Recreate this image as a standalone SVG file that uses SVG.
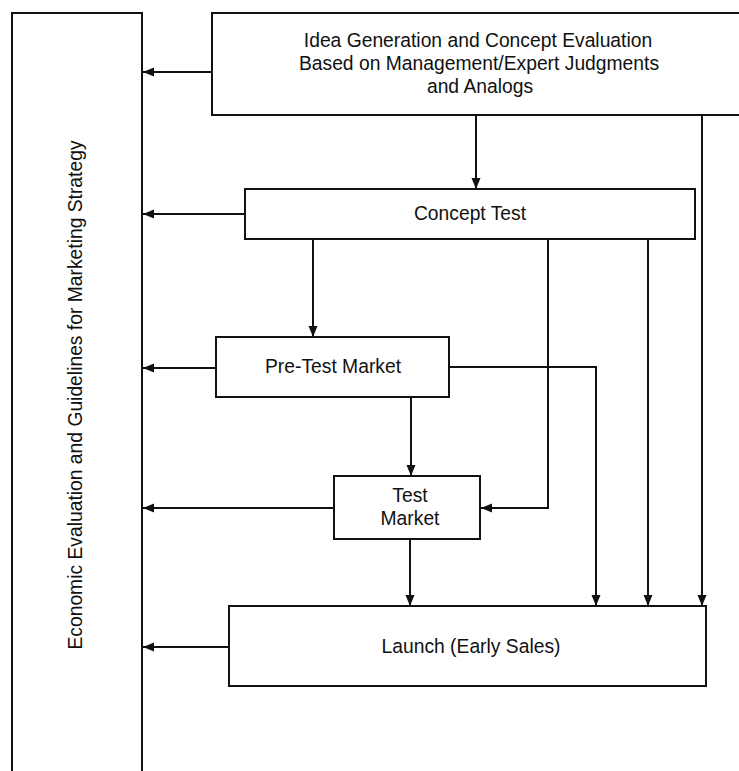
<svg xmlns="http://www.w3.org/2000/svg" width="739" height="771" viewBox="0 0 739 771">
<style>
.box{fill:#fff;stroke:#111;stroke-width:2}
.ln{fill:none;stroke:#111;stroke-width:2}
.t{font-family:"Liberation Sans",Arial,sans-serif;font-size:19.3px;fill:#111;text-anchor:middle}
</style>
<defs>
<marker id="ah" markerUnits="userSpaceOnUse" markerWidth="12" markerHeight="10" refX="11" refY="5" orient="auto">
<path d="M0,0.5 L11,5 L0,9.5 Z" fill="#111"/>
</marker>
</defs>
<rect width="739" height="771" fill="#fff"/>
<g id="econ">
<path class="ln" d="M12,790 V13 H142 V790"/>
<text class="t" transform="translate(82,395) rotate(-90)">Economic Evaluation and Guidelines for Marketing Strategy</text>
</g>
<g id="idea">
<path class="ln" d="M745,13 H212 V115 H745"/>
<text class="t" x="478" y="47">Idea Generation and Concept Evaluation</text>
<text class="t" x="479" y="70">Based on Management/Expert Judgments</text>
<text class="t" x="480" y="93">and Analogs</text>
</g>
<g id="concept">
<rect class="box" x="245" y="189" width="450" height="50"/>
<text class="t" x="470" y="220">Concept Test</text>
</g>
<g id="pretest">
<rect class="box" x="216" y="337" width="233" height="60"/>
<text class="t" x="333" y="373">Pre-Test Market</text>
</g>
<g id="testmarket">
<rect class="box" x="334" y="476" width="146" height="63"/>
<text class="t" x="410" y="502">Test</text>
<text class="t" x="410" y="525">Market</text>
</g>
<g id="launch">
<rect class="box" x="229" y="606" width="477" height="80"/>
<text class="t" x="471" y="653">Launch (Early Sales)</text>
</g>
<g id="connectors">
<path class="ln" marker-end="url(#ah)" d="M212,72 H143"/>
<path class="ln" marker-end="url(#ah)" d="M245,214 H143"/>
<path class="ln" marker-end="url(#ah)" d="M216,368 H143"/>
<path class="ln" marker-end="url(#ah)" d="M334,508 H143"/>
<path class="ln" marker-end="url(#ah)" d="M229,647 H143"/>
<path class="ln" marker-end="url(#ah)" d="M476,115 V189"/>
<path class="ln" marker-end="url(#ah)" d="M702,115 V606"/>
<path class="ln" marker-end="url(#ah)" d="M313,239 V337"/>
<path class="ln" marker-end="url(#ah)" d="M548,239 V508 H481"/>
<path class="ln" marker-end="url(#ah)" d="M648,239 V606"/>
<path class="ln" marker-end="url(#ah)" d="M449,367 H596 V606"/>
<path class="ln" marker-end="url(#ah)" d="M411,397 V476"/>
<path class="ln" marker-end="url(#ah)" d="M410,539 V606"/>
</g>
</svg>
